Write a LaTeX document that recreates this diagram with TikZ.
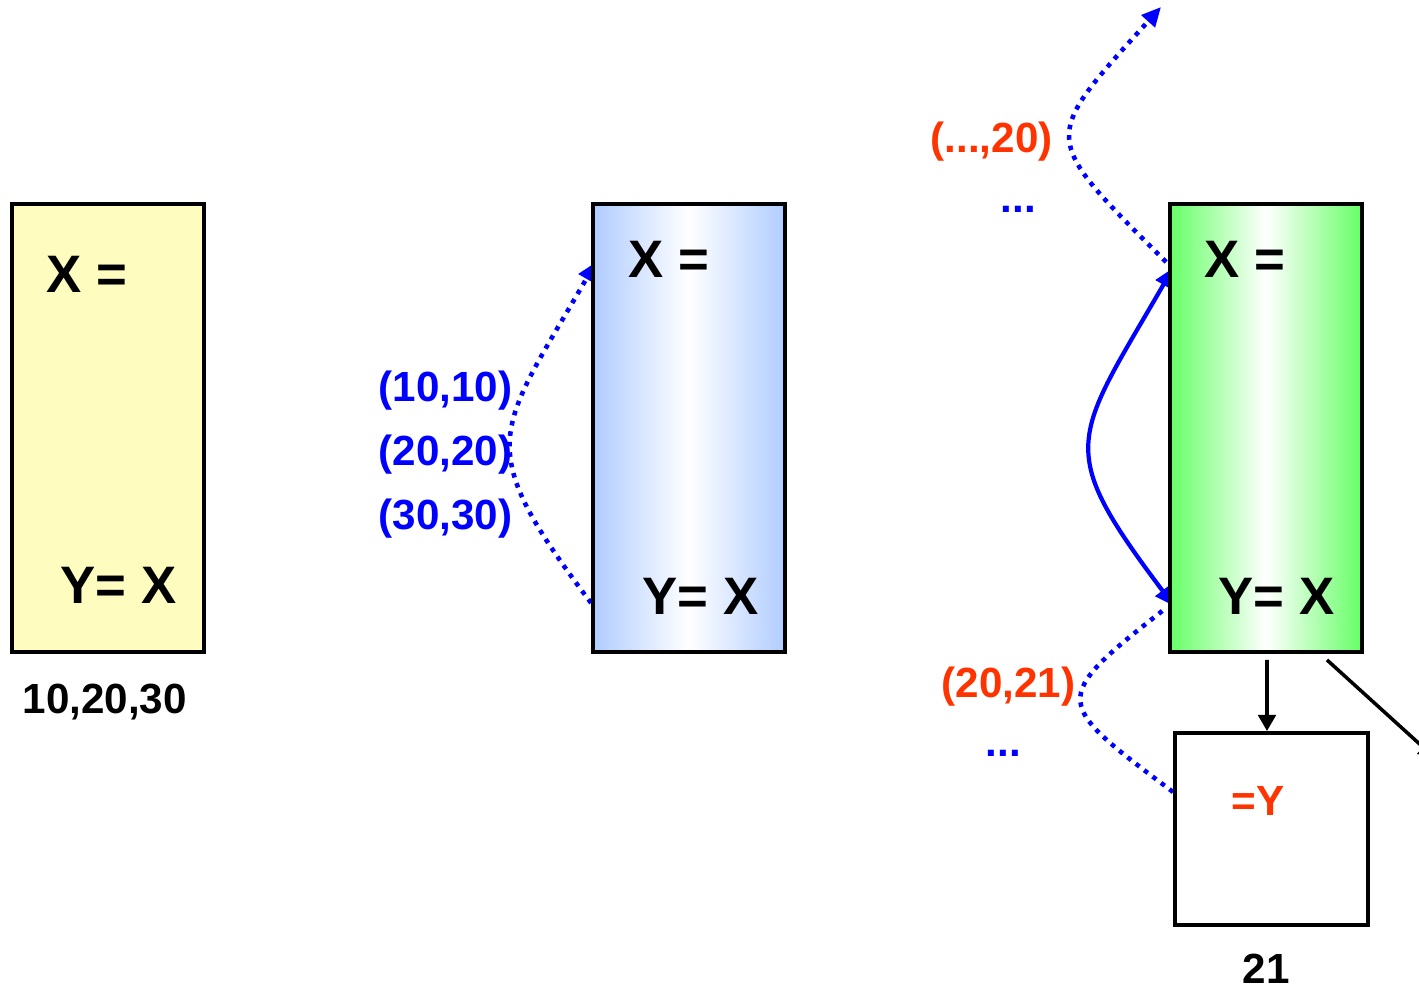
\documentclass[tikz,border=0pt]{standalone}
\usepackage{fontspec}
\setmainfont{Liberation Sans}
\usepackage{xcolor}
\usetikzlibrary{arrows.meta,positioning,calc,backgrounds}

\definecolor{boxyellow}{RGB}{255,252,192}
\definecolor{boxblue}{RGB}{176,204,255}
\definecolor{boxgreen}{RGB}{102,255,102}
\definecolor{valred}{RGB}{255,51,0}
\definecolor{valblue}{RGB}{0,0,255}

\begin{document}
\begin{tikzpicture}[>=latex, font=\bfseries]
    \tikzstyle{cellbox} = [draw, line width=1.1pt, minimum width=1.92cm, minimum height=4.48cm, inner sep=0pt]
    \tikzstyle{big} = [anchor=base west, inner sep=0pt, font=\bfseries\fontsize{15}{18}\selectfont]
    \tikzstyle{val} = [anchor=base west, inner sep=0pt, font=\bfseries\fontsize{12}{14}\selectfont]
    \tikzstyle{dotflow} = [valblue, line width=1.3pt, dash pattern=on 1.3pt off 1.7pt]
    \tikzstyle{blutip} = [-{Triangle[length=5.5pt,width=5pt]}]
    \tikzstyle{blktip} = [line width=1pt, -{Triangle[length=4.6pt,width=5pt]}]

    \useasboundingbox (0,0) rectangle (14.19,-9.87);

    % the three cells
    \node [cellbox, fill=boxyellow] (yel) at (1.08,-4.28) {};
    \node [cellbox, left color=boxblue, right color=boxblue, middle color=white, right of=yel, node distance=5.81cm] (blu) {};
    \node [cellbox, left color=boxgreen, right color=boxgreen, middle color=white, right of=blu, node distance=5.77cm] (grn) {};
    \node [draw, line width=1.1pt, minimum width=1.93cm, minimum height=1.92cm, inner sep=0pt] (sml) at (12.715,-8.29) {};

    % texts in the cells
    \node [big] (yelx) at (0.46,-2.92) {X =};
    \node [big] (yely) at (0.60,-6.03) {Y= X};
    \node [big] (blux) at (6.28,-2.77) {X =};
    \node [big] (bluy) at (6.42,-6.14) {Y= X};
    \node [big] (grnx) at (12.04,-2.77) {X =};
    \node [big] (grny) at (12.18,-6.14) {Y= X};
    \node [val, text=valred] (smly) at (12.31,-8.15) {=Y};

    % values
    \node [val] (yelval) at (0.22,-7.13) {10,20,30};
    \node [val] (smlval) at (12.42,-9.83) {21};
    \node [val, text=valblue] (in1) at (3.78,-4.01) {(10,10)};
    \node [val, text=valblue] (in2) at (3.78,-4.65) {(20,20)};
    \node [val, text=valblue] (in3) at (3.78,-5.29) {(30,30)};
    \node [val, text=valred] (outa) at (9.30,-1.52) {(...,20)};
    \node [val, text=valblue] (dotsa) at (10.00,-2.12) {...};
    \node [val, text=valred] (outb) at (9.41,-6.97) {(20,21)};
    \node [val, text=valblue] (dotsb) at (9.85,-7.56) {...};

    \coordinate (topout) at (11.61,-0.07);
    \coordinate (offpage) at (14.35,-7.58);

    \begin{pgfonlayer}{background}
        \draw [dotflow, blutip] ([yshift=-1.75cm]blu.west) .. controls +(127:2.0) and +(240:2.0) .. ([xshift=0.05cm,yshift=1.66cm]blu.west);
        \draw [valblue, line width=1.2pt, {Triangle[length=5.5pt,width=5pt]}-{Triangle[length=5.5pt,width=5pt]}] ([xshift=0.05cm,yshift=1.60cm]grn.west) .. controls +(240:2) and +(127:2) .. ([xshift=0.06cm,yshift=-1.78cm]grn.west);
        \draw [dotflow, blutip] ([xshift=-0.02cm,yshift=1.66cm]grn.west) .. controls +(135:1.8) and +(228:1.8) .. (topout);
        \draw [dotflow] ([yshift=0.37cm]sml.west) .. controls +(143:1.5) and +(218:1.5) .. ([xshift=-0.02cm,yshift=-1.80cm]grn.west);
    \end{pgfonlayer}

    \draw [blktip] ([xshift=0.01cm,yshift=-0.06cm]grn.south) -- ([xshift=-0.045cm]sml.north);
    \draw [blktip] ([xshift=0.61cm,yshift=-0.06cm]grn.south) -- (offpage);
\end{tikzpicture}
\end{document}
